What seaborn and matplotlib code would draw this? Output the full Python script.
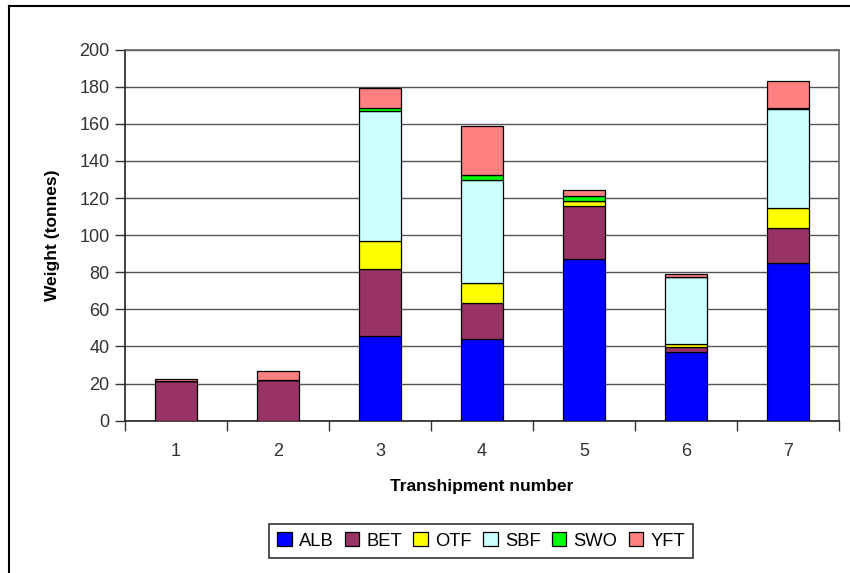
import matplotlib
matplotlib.use("Agg")
import matplotlib.pyplot as plt
from matplotlib.patches import Patch
from matplotlib.lines import Line2D
import pandas as pd
import seaborn as sns

# Weight per species for each transhipment (tonnes)
transhipments = [1, 2, 3, 4, 5, 6, 7]
species = ["ALB", "BET", "OTF", "SBF", "SWO", "YFT"]
alb = [0.0, 0.0, 45.6, 44.3, 87.0, 36.8, 85.2]
bet = [21.3, 22.0, 36.4, 19.2, 29.0, 3.0, 18.6]
otf = [0.0, 0.0, 14.7, 10.7, 2.3, 1.8, 10.8]
sbf = [0.0, 0.0, 70.1, 55.7, 0.0, 35.9, 53.4]
swo = [0.0, 0.0, 1.8, 2.3, 2.6, 0.0, 0.5]
yft = [1.3, 4.7, 10.7, 26.9, 3.2, 1.4, 14.8]

colors = ["#0000FF", "#993366", "#FFFF00", "#CCFFFF", "#00FF00", "#FF8080"]

rows = []
for sp, vals in zip(species, [alb, bet, otf, sbf, swo, yft]):
    for t, v in zip(transhipments, vals):
        rows.append({"Transhipment": t, "Species": sp, "Weight": v})
df = pd.DataFrame(rows)

plt.rcParams["font.family"] = ["Liberation Sans", "DejaVu Sans"]
fig = plt.figure(figsize=[8.5, 5.73], dpi=100)
ax = fig.add_axes([0.147, 0.2658, 0.84, 0.6475])

sns.histplot(data=df, x="Transhipment", weights="Weight", hue="Species",
             hue_order=species[::-1], palette=dict(zip(species, colors)),
             multiple="stack", discrete=True, shrink=0.41, alpha=1,
             edgecolor="black", linewidth=0.9, legend=False, ax=ax, zorder=3)

ax.set_xlim(0.5, 7.5)
ax.set_ylim(0, 200)
ax.set_yticks(range(0, 201, 20))
ax.set_xticks([i + 0.5 for i in range(0, 8)])
ax.set_xticklabels([])
ax.set_xticks(transhipments, minor=True)
ax.set_xticklabels([str(t) for t in transhipments], minor=True)
ax.tick_params(axis="x", which="major", direction="out", length=7, width=1, color="#333333")
ax.tick_params(axis="x", which="minor", length=0, pad=16, labelsize=13, labelcolor="#333333")
ax.tick_params(axis="y", direction="out", length=7, width=1, color="#333333",
               labelsize=13, labelcolor="#333333", pad=4)
ax.grid(axis="y", color="#555555", linewidth=1, zorder=0)
ax.set_axisbelow(True)
for side in ["left", "bottom"]:
    ax.spines[side].set_color("#222222")
    ax.spines[side].set_linewidth(1.2)
for side in ["top", "right"]:
    ax.spines[side].set_color("#666666")
    ax.spines[side].set_linewidth(1.2)

ax.set_xlabel("Transhipment number", fontsize=12.5, fontweight="bold", labelpad=14)
ax.set_ylabel("Weight (tonnes)", fontsize=12.5, fontweight="bold", labelpad=14)

handles = [Patch(facecolor=c, edgecolor="black", linewidth=0.9, label=s)
           for s, c in zip(species, colors)]
leg = fig.legend(handles=handles, loc="center", bbox_to_anchor=(481 / 850, 1 - 541 / 573),
                 ncol=6, frameon=True, fancybox=False, fontsize=13.2,
                 handlelength=0.8, handleheight=0.8, handletextpad=0.4,
                 columnspacing=0.6, borderpad=0.45)
leg.get_frame().set_edgecolor("black")
leg.get_frame().set_linewidth(1.2)

# outer frame (top and left edges visible in the original)
fig.add_artist(Line2D([9 / 850, 9 / 850], [0, 1 - 6 / 573], color="black", linewidth=1.5))
fig.add_artist(Line2D([9 / 850, 1], [1 - 6 / 573, 1 - 6 / 573], color="black", linewidth=1.5))

fig.savefig("out.png", dpi=100)
plt.close(fig)
